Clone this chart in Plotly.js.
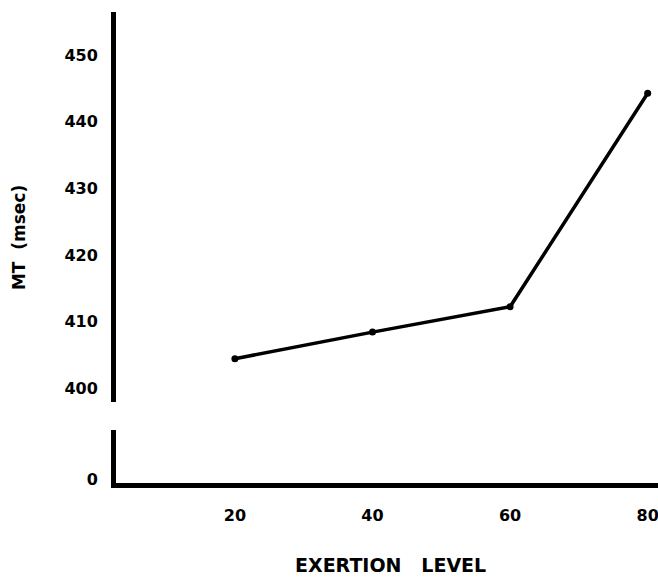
<!DOCTYPE html>
<html>
<head>
<meta charset="utf-8">
<script src="https://cdn.plot.ly/plotly-3.0.1.min.js"></script>
<style>
  html, body { margin: 0; padding: 0; background: #fff; overflow: hidden; }
  #chart { width: 658px; height: 578px; }
</style>
</head>
<body>
<div id="chart"></div>
<script>
// Data
const exertionLevels = [20, 40, 60, 80];
const mtValues = [404.4, 408.4, 412.2, 444.3];
const upperTicks = [400, 410, 420, 430, 440, 450];
const lowerTicks = [0];
const xTicks = [20, 40, 60, 80];
const xTitle = 'EXERTION&nbsp;&nbsp;&nbsp;LEVEL';
const yTitle = 'MT&nbsp;&nbsp;(msec)';

const fnt = { family: 'DejaVu Sans', size: 16, color: '#000', weight: 'bold' };

const trace = {
  x: exertionLevels,
  y: mtValues,
  type: 'scatter',
  mode: 'lines+markers',
  xaxis: 'x',
  yaxis: 'y',
  line: { color: '#000', width: 3.5 },
  marker: { color: '#000', size: 7 },
  cliponaxis: false,
  hoverinfo: 'skip'
};

// empty helper trace so the lower (broken) axis panel exists
const lowerPanel = {
  x: [null],
  y: [null],
  type: 'scatter',
  mode: 'markers',
  xaxis: 'x',
  yaxis: 'y2',
  hoverinfo: 'skip',
  showlegend: false
};

const layout = {
  width: 658,
  height: 578,
  margin: { l: 116, r: 0, t: 12, b: 95 },
  paper_bgcolor: '#fff',
  plot_bgcolor: '#fff',
  showlegend: false,
  xaxis: {
    range: [2.72, 81.5],
    anchor: 'y2',
    showline: true,
    linewidth: 5,
    linecolor: '#000',
    showgrid: false,
    zeroline: false,
    tickvals: xTicks,
    ticktext: xTicks.map(String),
    ticks: 'outside',
    ticklen: 14,
    tickcolor: 'rgba(0,0,0,0)',
    tickfont: fnt,
    ticklabeloverflow: 'allow',
    fixedrange: true
  },
  yaxis: {
    domain: [0.172, 1],
    range: [397.9, 456.5],
    anchor: 'x',
    showline: true,
    linewidth: 5,
    linecolor: '#000',
    showgrid: false,
    zeroline: false,
    tickvals: upperTicks,
    ticktext: upperTicks.map(String),
    ticks: 'outside',
    ticklen: 10,
    tickcolor: 'rgba(0,0,0,0)',
    tickfont: fnt,
    fixedrange: true
  },
  yaxis2: {
    domain: [0, 0.1125],
    range: [-0.5, 8],
    anchor: 'x',
    showline: true,
    linewidth: 5,
    linecolor: '#000',
    showgrid: false,
    zeroline: false,
    tickvals: lowerTicks,
    ticktext: lowerTicks.map(String),
    ticks: 'outside',
    ticklen: 10,
    tickcolor: 'rgba(0,0,0,0)',
    tickfont: fnt,
    fixedrange: true
  },
  annotations: [
    {
      text: yTitle,
      xref: 'paper', yref: 'paper',
      x: -0.179, y: 0.522,
      xanchor: 'center', yanchor: 'middle',
      textangle: -90,
      showarrow: false,
      borderpad: 0,
      font: { family: 'DejaVu Sans', size: 17, color: '#000', weight: 'bold' }
    },
    {
      text: xTitle,
      xref: 'paper', yref: 'paper',
      x: 0.507, y: -0.174,
      xanchor: 'center', yanchor: 'middle',
      showarrow: false,
      borderpad: 0,
      font: { family: 'DejaVu Sans', size: 19, color: '#000', weight: 'bold' }
    }
  ]
};

Plotly.newPlot('chart', [trace, lowerPanel], layout, { displayModeBar: false, staticPlot: true });
</script>
</body>
</html>
